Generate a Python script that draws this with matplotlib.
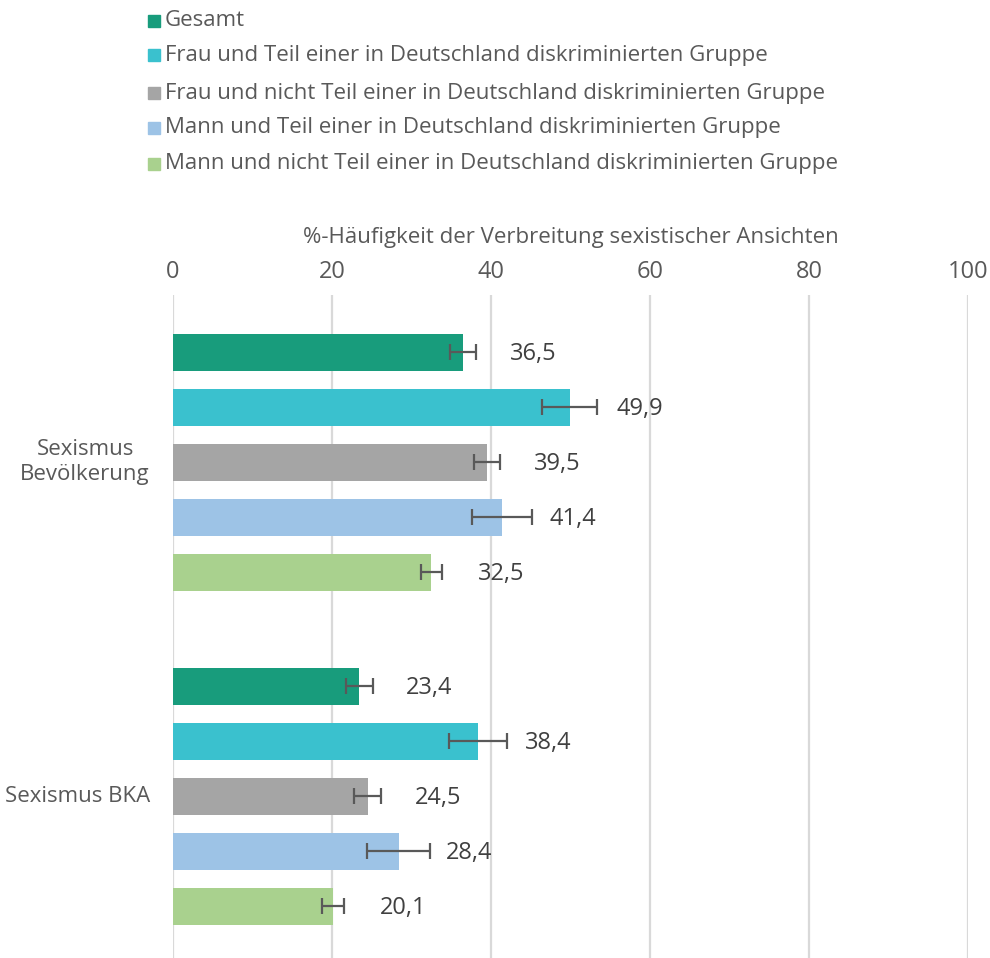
import matplotlib
matplotlib.use("Agg")
import matplotlib.pyplot as plt
from matplotlib.patches import Rectangle
import numpy as np

plt.rcParams['font.family'] = ['Open Sans', 'DejaVu Sans']

categories = ["Sexismus\nBevölkerung", "Sexismus BKA"]
series = [
    "Gesamt",
    "Frau und Teil einer in Deutschland diskriminierten Gruppe",
    "Frau und nicht Teil einer in Deutschland diskriminierten Gruppe",
    "Mann und Teil einer in Deutschland diskriminierten Gruppe",
    "Mann und nicht Teil einer in Deutschland diskriminierten Gruppe",
]
colors = ["#189c7c", "#3ac1ce", "#a5a5a5", "#9dc3e6", "#a9d18e"]
values = [
    [36.5, 23.4],
    [49.9, 38.4],
    [39.5, 24.5],
    [41.4, 28.4],
    [32.5, 20.1],
]
errors = [
    [1.6, 1.7],
    [3.45, 3.65],
    [1.6, 1.7],
    [3.8, 3.95],
    [1.35, 1.4],
]
xticks = [0, 20, 40, 60, 80, 100]
xlabel = "%-Häufigkeit der Verbreitung sexistischer Ansichten"

W, H = 990, 958
fig = plt.figure(figsize=(W / 100, H / 100), dpi=100)
band = 334
ax = fig.add_axes([173 / W, (958 - 295 - 2 * band) / H, 795 / W, 2 * band / H])

text_col = "#595959"
slot = 55 / band
bar_h = 37 / band
y0 = np.arange(len(categories))
for i, (name, c) in enumerate(zip(series, colors)):
    ys = y0 + (i - 2) * slot
    ax.barh(ys, values[i], height=bar_h, color=c, zorder=2)
    ax.errorbar(values[i], ys, xerr=errors[i], fmt="none", ecolor="#595959",
                elinewidth=1.6, capsize=5.5, capthick=1.6, zorder=3)
    for y, v in zip(ys, values[i]):
        ax.annotate(f"{v:.1f}".replace(".", ","), (v, y), xytext=(47, -2),
                    textcoords="offset pixels", va="center", ha="left",
                    fontsize=17, color="#404040")

ax.set_xlim(0, 100)
ax.set_ylim(1.5, -0.5)
ax.set_xticks(xticks)
ax.xaxis.tick_top()
ax.xaxis.set_label_position("top")
ax.tick_params(axis="x", length=0, labelsize=17, labelcolor=text_col, pad=8)
ax.set_xlabel(xlabel, fontsize=16, color=text_col, labelpad=12)
ax.set_yticks([])
for y, cat in zip(y0, categories):
    ax.annotate(cat, (0, y), xytext=(-23, 0), textcoords="offset pixels",
                ha="right", va="center", multialignment="center",
                fontsize=16, color=text_col)
ax.grid(axis="x", color="#d9d9d9", linewidth=1.6, zorder=0)
ax.set_axisbelow(True)
for s in ax.spines.values():
    s.set_visible(False)

# legend
leg_y = [21, 55, 93, 128, 164]
for name, c, yy in zip(series, colors, leg_y):
    fig.patches.append(Rectangle((148 / W, 1 - (yy + 6) / H), 12 / W, 12 / H,
                                 transform=fig.transFigure, color=c))
    fig.text(165 / W, 1 - yy / H, name, fontsize=16, color=text_col,
             va="center", ha="left")

fig.savefig("out.png", dpi=100)
